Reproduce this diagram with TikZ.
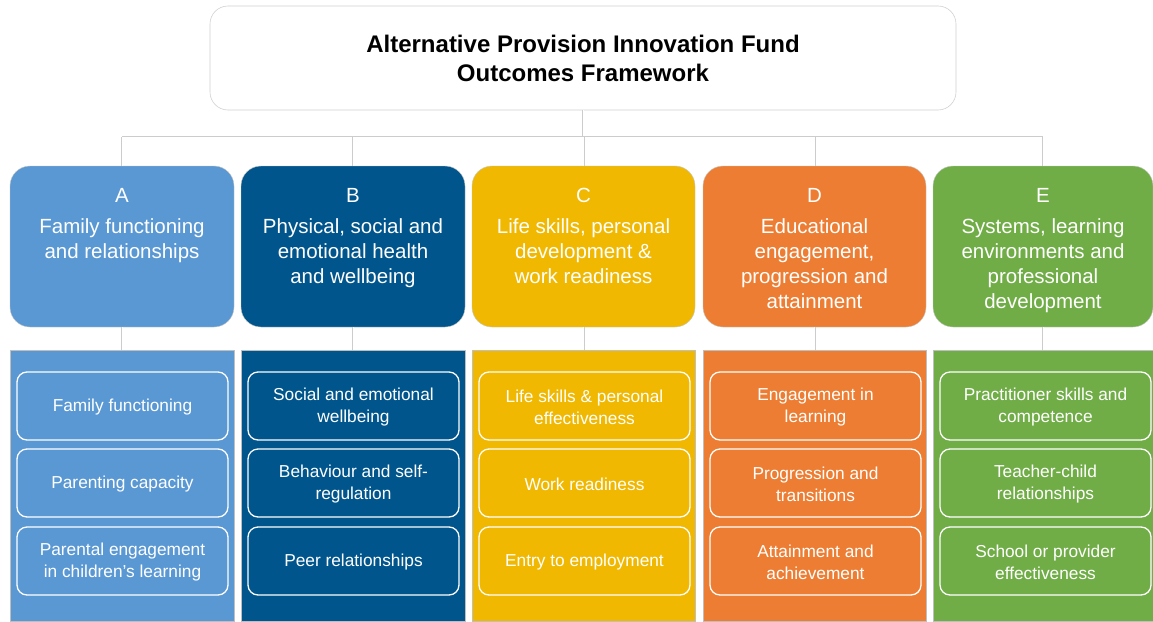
\documentclass[tikz,border=0pt]{standalone}
\usepackage{fontspec}
\setmainfont{Liberation Sans}
\definecolor{cA}{HTML}{5A98D4}
\definecolor{cB}{HTML}{00558C}
\definecolor{cC}{HTML}{F0B800}
\definecolor{cD}{HTML}{ED7D32}
\definecolor{cE}{HTML}{70AD47}
\begin{document}
\begin{tikzpicture}[x=1pt,y=-1pt,
  conn/.style={draw=black!20,line width=0.5pt,double=white,double distance=1pt},
  titlebox/.style={draw=black!18,line width=0.6pt,fill=white,rounded corners=18pt,minimum width=746pt,minimum height=104pt,inner sep=0pt,align=center,font=\fontsize{24}{29}\selectfont\bfseries},
  hdr/.style={fill=#1,draw=black!22,line width=0.4pt,rounded corners=20pt,minimum height=161pt,inner sep=0pt},
  panel/.style={fill=#1,draw=black!25,line width=0.4pt,minimum height=271pt,inner sep=0pt},
  letter/.style={anchor=base,text=white,inner sep=0pt,font=\fontsize{20.5}{25}\selectfont},
  htext/.style={anchor=base,text=white,inner sep=0pt,align=center,font=\fontsize{20.5}{25}\selectfont},
  inbox/.style={draw=white,line width=1.3pt,rounded corners=10pt,minimum width=211pt,minimum height=68pt,inner sep=0pt},
  intext/.style={inner sep=0pt,align=center,text=white,yshift=-1.5pt,font=\fontsize{17.3}{22}\selectfont}]
\useasboundingbox (0,0) rectangle (1153,621);
\fill[white] (0,0) rectangle (1153,621);
\node[titlebox] (T) at (583,58) {Alternative Provision Innovation Fund\\Outcomes Framework};
\foreach \n/\x/\w/\col in {A/10/224/cA,B/241/224/cB,C/472/223/cC,D/703/223/cD,E/933/220/cE}{
  \node[hdr=\col,minimum width=\w pt] (h\n) at ({\x+\w/2},246.5) {};
  \node[panel=\col,minimum width=\w pt] (p\n) at ({\x+\w/2},485.5) {};
  \node[letter] (l\n) at ({\x+\w/2},202.7) {\n};
  \node[inbox] (b\n1) at ({\x+112.5},406) {};
  \node[inbox] (b\n2) at ({\x+112.5},483) {};
  \node[inbox] (b\n3) at ({\x+112.5},561) {};
}
\coordinate (bus) at (583,137);
\draw[conn] (T.south) -- (T.south |- bus);
\draw[conn] (hA.north |- bus) -- (hE.north |- bus);
\foreach \n in {A,B,C,D,E}{
  \draw[conn] (h\n.north |- bus) -- (h\n.north);
  \draw[conn] (h\n.south) -- (p\n.north);
}
% header texts (anchor = baseline of last line)
\node[htext] (tA) at (hA.center |- 0,258.3) {Family functioning\\and relationships};
\node[htext] (tB) at (hB.center |- 0,283.3) {Physical, social and\\emotional health\\and wellbeing};
\node[htext] (tC) at (hC.center |- 0,283.3) {Life skills, personal\\development \&\\work readiness};
\node[htext] (tD) at (hD.center |- 0,308.3) {Educational\\engagement,\\progression and\\attainment};
\node[htext] (tE) at (hE.center |- 0,308.3) {Systems, learning\\environments and\\professional\\development};
% inner texts
\node[intext] (xA1) at (bA1) {Family functioning};
\node[intext] (xA2) at (bA2) {Parenting capacity};
\node[intext] (xA3) at (bA3) {Parental engagement\\in children’s learning};
\node[intext] (xB1) at (bB1) {Social and emotional\\wellbeing};
\node[intext] (xB2) at (bB2) {Behaviour and self-\\regulation};
\node[intext] (xB3) at (bB3) {Peer relationships};
\node[intext] (xC1) at (bC1) {Life skills \& personal\\effectiveness};
\node[intext] (xC2) at (bC2) {Work readiness};
\node[intext] (xC3) at (bC3) {Entry to employment};
\node[intext] (xD1) at (bD1) {Engagement in\\learning};
\node[intext] (xD2) at (bD2) {Progression and\\transitions};
\node[intext] (xD3) at (bD3) {Attainment and\\achievement};
\node[intext] (xE1) at (bE1) {Practitioner skills and\\competence};
\node[intext] (xE2) at (bE2) {Teacher-child\\relationships};
\node[intext] (xE3) at (bE3) {School or provider\\effectiveness};
\end{tikzpicture}
\end{document}
